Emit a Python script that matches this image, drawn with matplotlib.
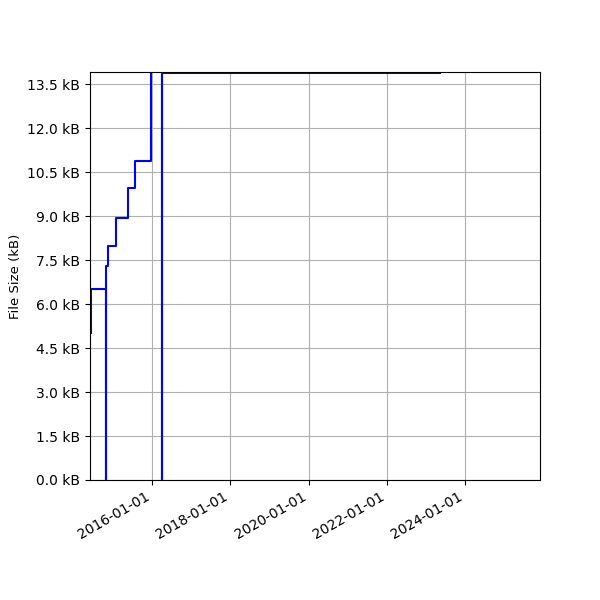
import pandas as pd
import matplotlib
matplotlib.use("Agg")
import matplotlib.pyplot as plt
import matplotlib.dates as mdates
from matplotlib.ticker import MultipleLocator, FuncFormatter

# file size history (kB), step changes at each commit date
dates = ["2014-06-08", "2014-10-28", "2014-10-31", "2014-11-11", "2015-01-24",
         "2015-05-19", "2015-07-28", "2015-12-20", "2016-03-31", "2016-04-03",
         "2023-05-15"]
sizes = [5.0, 6.5, 0.0, 7.3, 8.0, 8.95, 9.97, 10.87, 15.0, 0.0, 13.9]

x_start = "2014-05-30"
x_end = "2025-12-01"
y_top = 13.92


def main():
    t = pd.to_datetime(dates)
    fig, ax = plt.subplots(figsize=(6, 6), dpi=100)
    ax.step(t, sizes, where="pre", color="blue", linewidth=1.5)
    ax.set_xlim(pd.Timestamp(x_start), pd.Timestamp(x_end))
    ax.set_ylim(0, y_top)
    ax.yaxis.set_major_locator(MultipleLocator(1.5))
    ax.yaxis.set_major_formatter(FuncFormatter(lambda v, p: f"{v:.1f} kB"))
    ax.xaxis.set_major_locator(mdates.YearLocator(2))
    ax.xaxis.set_major_formatter(mdates.DateFormatter("%Y-%m-%d"))
    ax.set_ylabel("File Size (kB)", fontsize=9.5)
    ax.grid(True)
    fig.autofmt_xdate()
    fig.subplots_adjust(left=0.15, right=0.9, top=0.88, bottom=0.2)
    fig.savefig("out.png", dpi=100)


if __name__ == "__main__":
    main()
